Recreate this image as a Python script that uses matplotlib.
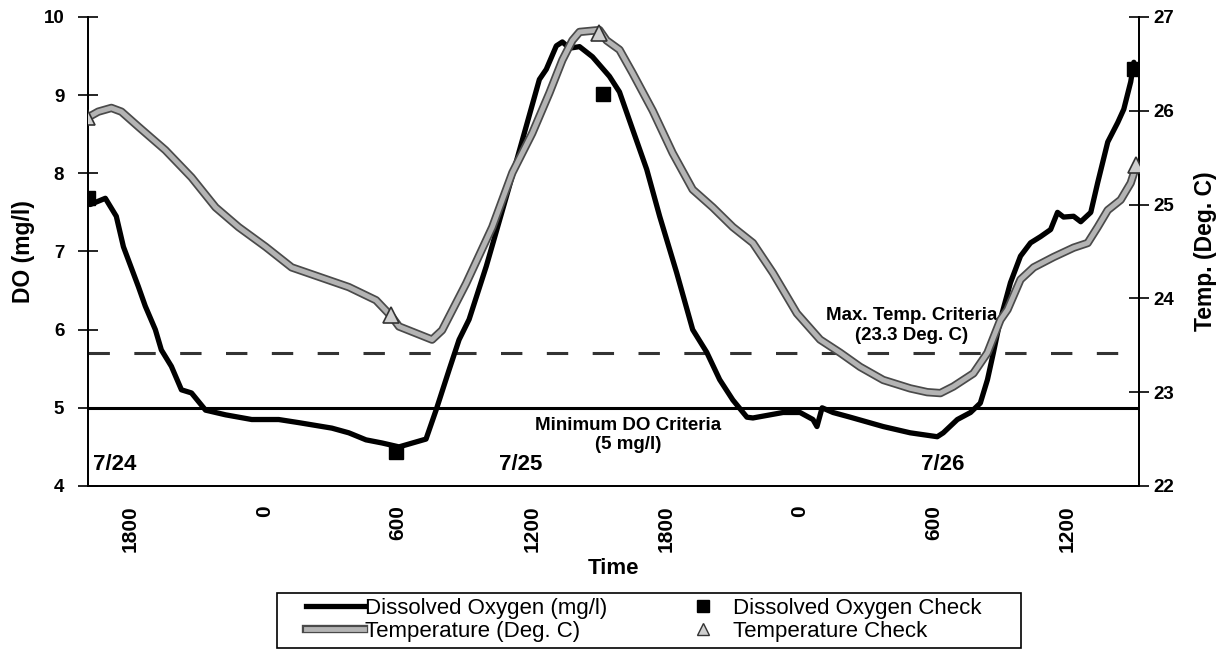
import numpy as np
import matplotlib.pyplot as plt
import matplotlib.patheffects as pe
from matplotlib.lines import Line2D
from matplotlib.patches import Rectangle

plt.rcParams['font.family'] = ['Liberation Sans', 'DejaVu Sans']

# hours counted from 7/24 00:00
do_hours = [16.2, 16.88, 17.37, 17.69, 18.36, 18.67, 19.12, 19.39, 19.84, 20.29, 20.74,
            21.37, 22.27, 23.44, 24.65, 25.55, 27.03, 27.79, 28.56, 29.28, 30.04, 31.25,
            31.7, 32.29, 32.73, 33.18, 33.95, 34.98, 35.74, 36.33, 36.64, 37.09, 37.36,
            37.68, 38.13, 38.71, 39.47, 39.92, 40.51, 41.14, 41.72, 42.48, 43.2, 43.83,
            44.41, 45.0, 45.63, 45.9, 47.25, 48.01, 48.59, 48.77, 49.0, 49.49, 50.26,
            51.74, 52.95, 54.16, 54.43, 55.06, 55.65, 56.09, 56.41, 56.68, 56.99, 57.44,
            57.89, 58.34, 58.79, 59.24, 59.55, 59.82, 60.27, 60.59, 61.04, 61.35, 61.8,
            62.25, 62.52, 62.83, 62.97]
do_vals = [7.6, 7.68, 7.45, 7.06, 6.55, 6.3, 6.0, 5.74, 5.53, 5.23, 5.19,
           4.97, 4.91, 4.85, 4.85, 4.81, 4.74, 4.68, 4.59, 4.55, 4.5, 4.6,
           4.97, 5.49, 5.87, 6.13, 6.81, 7.83, 8.6, 9.2, 9.33, 9.63, 9.68,
           9.6, 9.62, 9.49, 9.24, 9.04, 8.56, 8.05, 7.45, 6.73, 6.0, 5.71,
           5.36, 5.1, 4.88, 4.87, 4.94, 4.94, 4.85, 4.76, 5.0, 4.94, 4.88,
           4.76, 4.68, 4.63, 4.68, 4.85, 4.94, 5.06, 5.36, 5.71, 6.13, 6.6,
           6.94, 7.11, 7.19, 7.28, 7.5, 7.44, 7.45, 7.38, 7.5, 7.88, 8.4,
           8.65, 8.82, 9.17, 9.42]

temp_hours = [16.11, 16.56, 17.15, 17.6, 18.36, 19.57, 20.74, 21.82, 22.85, 24.06, 25.23,
              26.45, 27.79, 29.01, 29.73, 30.04, 31.52, 31.97, 33.05, 34.22, 35.12, 36.01,
              36.78, 37.36, 37.81, 38.13, 39.02, 39.34, 39.92, 40.51, 41.41, 42.3, 43.2,
              44.1, 45.0, 45.9, 46.8, 47.87, 48.91, 49.81, 50.7, 51.74, 52.95, 53.71,
              54.3, 54.88, 55.78, 56.41, 56.99, 57.31, 57.89, 58.48, 59.37, 60.27, 60.9,
              61.35, 61.8, 62.38, 62.83, 63.06]
temp_vals = [25.93, 25.99, 26.03, 25.99, 25.83, 25.58, 25.29, 24.97, 24.76, 24.55, 24.33,
             24.23, 24.12, 23.98, 23.8, 23.7, 23.56, 23.66, 24.16, 24.76, 25.34, 25.76,
             26.19, 26.54, 26.75, 26.84, 26.86, 26.75, 26.65, 26.4, 26.0, 25.55, 25.16,
             24.97, 24.76, 24.59, 24.27, 23.84, 23.56, 23.42, 23.27, 23.13, 23.04, 23.0,
             22.99, 23.06, 23.2, 23.42, 23.77, 23.88, 24.2, 24.33, 24.44, 24.54, 24.59,
             24.76, 24.94, 25.05, 25.23, 25.4]

do_check_hours = [16.1, 29.9, 39.16, 62.97]
do_check_vals = [7.69, 4.44, 9.01, 9.33]
temp_check_hours = [16.05, 29.7, 39.0, 63.06]
temp_check_vals = [25.93, 23.82, 26.83, 25.42]

min_do = 5.0
max_temp_line_do = 5.7   # dashed criteria line as drawn on DO scale

tick_hours = [18, 24, 30, 36, 42, 48, 54, 60]
tick_labels = ['1800', '0', '600', '1200', '1800', '0', '600', '1200']

fig = plt.figure(figsize=(12.3, 6.51), dpi=100)
ax = fig.add_axes([0.0715, 0.2535, 0.8545, 0.7205])
ax2 = ax.twinx()

temp_fx = [pe.Stroke(linewidth=6, foreground='#4a4a4a'), pe.Normal()]

ax.axhline(min_do, color='black', lw=2.2, zorder=2)
ax.axhline(max_temp_line_do, color='#333333', lw=2.2, dashes=(7, 8), zorder=2)

do_line, = ax.plot(do_hours, do_vals, color='black', lw=3.8, zorder=4,
                   solid_joinstyle='round', solid_capstyle='round')
do_chk, = ax.plot(do_check_hours, do_check_vals, 's', color='black', ms=10, zorder=5)

temp_line, = ax2.plot(temp_hours, temp_vals, color='#b4b4b4', lw=3.5,
                      path_effects=temp_fx, zorder=3, solid_joinstyle='round')
temp_chk, = ax2.plot(temp_check_hours, temp_check_vals, '^', color='#cfcfcf',
                     mec='#333333', mew=1.2, ms=11, zorder=5)

ax.set_xlim(16.1, 63.2)
ax.set_ylim(4, 10)
ax2.set_ylim(22, 27)
ax.set_xticks(tick_hours)
ax.set_xticklabels(tick_labels, rotation=90, fontsize=15, fontweight='bold')
ax.tick_params(axis='x', length=0, pad=14)
ax.tick_params(axis='y', direction='inout', length=14, width=1.2, labelsize=13.5, pad=10)
ax2.tick_params(axis='y', direction='inout', length=14, width=1.2, labelsize=13.5)
for lbl in ax.get_yticklabels() + ax2.get_yticklabels():
    lbl.set_fontweight('bold')

for a in (ax, ax2):
    a.spines['top'].set_visible(False)
    for s in ('left', 'right', 'bottom'):
        a.spines[s].set_linewidth(1.3)

ax.set_xlabel('Time', fontsize=16, fontweight='bold', labelpad=4)
ax.set_ylabel('DO (mg/l)', fontsize=16.5, fontweight='bold', labelpad=6)
ax2.set_ylabel('Temp. (Deg. C)', fontsize=16.5, fontweight='bold', labelpad=14)

ax.text(17.3, 4.27, '7/24', fontsize=16, fontweight='bold', ha='center', va='center')
ax.text(35.5, 4.27, '7/25', fontsize=16, fontweight='bold', ha='center', va='center')
ax.text(54.4, 4.27, '7/26', fontsize=16, fontweight='bold', ha='center', va='center')
ax.text(40.3, 4.65, 'Minimum DO Criteria\n(5 mg/l)', fontsize=13.5, fontweight='bold',
        ha='center', va='center', linespacing=1.2)
ax.text(53.0, 6.05, 'Max. Temp. Criteria\n(23.3 Deg. C)', fontsize=13.5, fontweight='bold',
        ha='center', va='center', linespacing=1.2)

h_do = Line2D([], [], color='black', lw=3.8)
h_temp = Line2D([], [], color='#b4b4b4', lw=3.5, path_effects=temp_fx)
h_do_chk = Line2D([], [], ls='none', marker='s', color='black', ms=8)
h_temp_chk = Line2D([], [], ls='none', marker='^', color='#cfcfcf', mec='#333333', ms=9)
leg = fig.legend([h_do, h_temp, h_do_chk, h_temp_chk],
                 ['Dissolved Oxygen (mg/l)', 'Temperature (Deg. C)',
                  'Dissolved Oxygen Check', 'Temperature Check'],
                 ncol=2, loc='center left', bbox_to_anchor=(306 / 1230, 1 - 620 / 651),
                 fontsize=16, frameon=False, borderpad=0, borderaxespad=0,
                 handlelength=2.6, handletextpad=0.05, labelspacing=0.1,
                 columnspacing=3.0)
fig.patches.append(Rectangle((277 / 1230, 3 / 651), 744 / 1230, 55 / 651,
                             transform=fig.transFigure, fill=False,
                             edgecolor='black', lw=1.2))

fig.savefig('out.png', dpi=100)
